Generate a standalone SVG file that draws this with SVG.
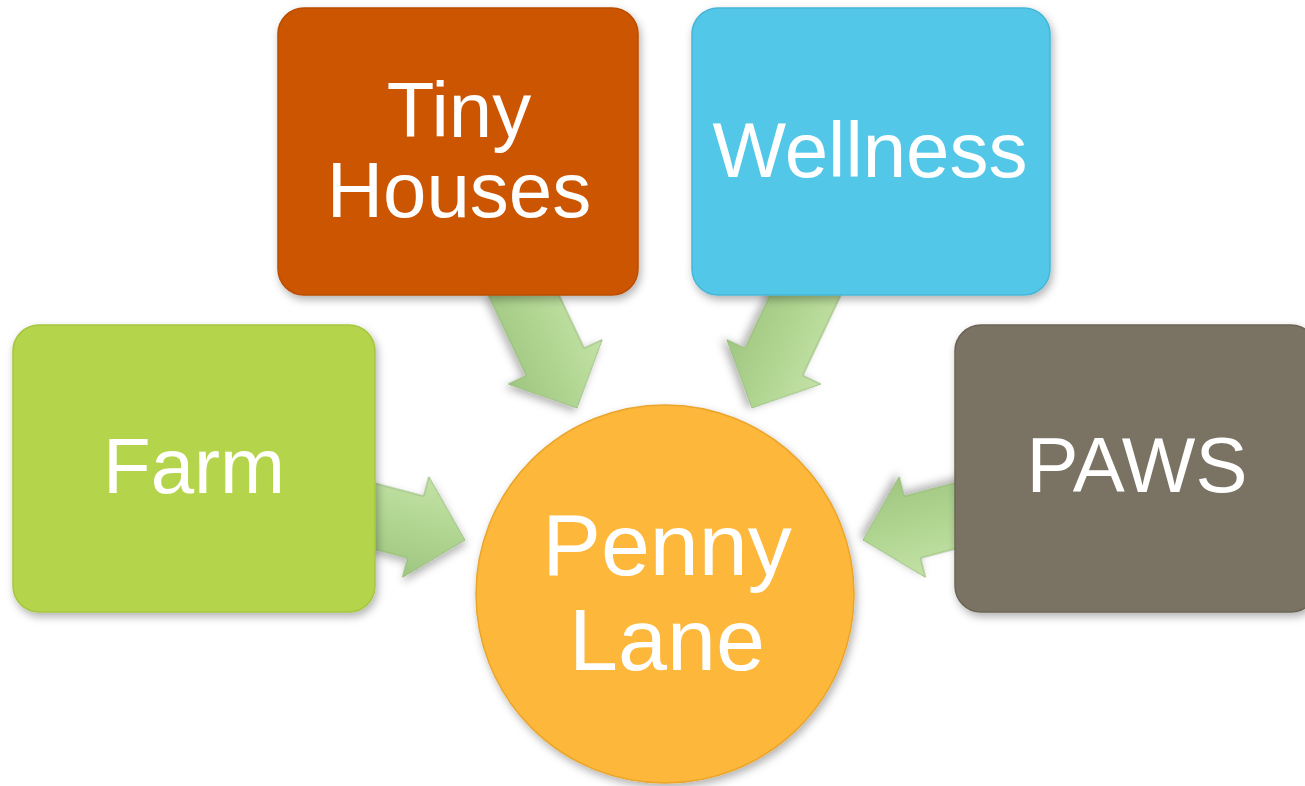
<svg xmlns="http://www.w3.org/2000/svg" width="1305" height="786" viewBox="0 0 1305 786">
  <defs>
    <filter id="shadow" x="-10%" y="-10%" width="125%" height="125%">
      <feDropShadow dx="2" dy="4" stdDeviation="4" flood-color="#000" flood-opacity="0.3"/>
    </filter>
    <linearGradient id="arrowGrad" x1="0" y1="0" x2="0" y2="1">
      <stop offset="0" stop-color="#c3e2a6"/>
      <stop offset="0.5" stop-color="#b0d591"/>
      <stop offset="1" stop-color="#9fc681"/>
    </linearGradient>
    <polygon id="arrowShape" points="-140,-32 -51,-32 -51,-52 0,0 -51,52 -51,32 -140,32"/>
  </defs>
  <style>
    .box { stroke-width: 1.5; filter: url(#shadow); }
    .label { font-family: "Liberation Sans", Arial, sans-serif; fill: #ffffff; text-anchor: middle; }
    .arrow { fill: url(#arrowGrad); stroke: #93b877; stroke-width: 1; stroke-linejoin: miter; filter: url(#shadow); }
  </style>
  <rect width="1305" height="786" fill="#ffffff"/>

  <g id="connectors">
    <use href="#arrowShape" class="arrow" transform="translate(577,408) rotate(64.7)"/>
    <use href="#arrowShape" class="arrow" transform="translate(752,408) rotate(115.3)"/>
    <use href="#arrowShape" class="arrow" transform="translate(465,540) rotate(14.7)"/>
    <use href="#arrowShape" class="arrow" transform="translate(863,540) rotate(165.3)"/>
  </g>

  <g id="node-farm">
    <rect class="box" x="13" y="325" width="362" height="287" rx="26" fill="#b4d54b" stroke="#a6c63f"/>
    <text class="label" x="194" y="493" font-size="78">Farm</text>
  </g>

  <g id="node-tiny-houses">
    <rect class="box" x="278" y="8" width="360" height="287" rx="26" fill="#cb5503" stroke="#bb4d03"/>
    <text class="label" x="459" y="137" font-size="78">Tiny</text>
    <text class="label" x="459" y="217" font-size="78">Houses</text>
  </g>

  <g id="node-wellness">
    <rect class="box" x="692" y="8" width="358" height="287" rx="26" fill="#53c7e8" stroke="#47b6d6"/>
    <text class="label" x="870" y="177" font-size="78">Wellness</text>
  </g>

  <g id="node-paws">
    <rect class="box" x="955" y="325" width="362" height="287" rx="26" fill="#7a7262" stroke="#6c6556"/>
    <text class="label" x="1137" y="492" font-size="78">PAWS</text>
  </g>

  <g id="node-penny-lane">
    <circle class="box" cx="665" cy="594" r="189" fill="#fdb83a" stroke="#eaa52c"/>
    <text class="label" x="667" y="575" font-size="88">Penny</text>
    <text class="label" x="667" y="670" font-size="88">Lane</text>
  </g>
</svg>
